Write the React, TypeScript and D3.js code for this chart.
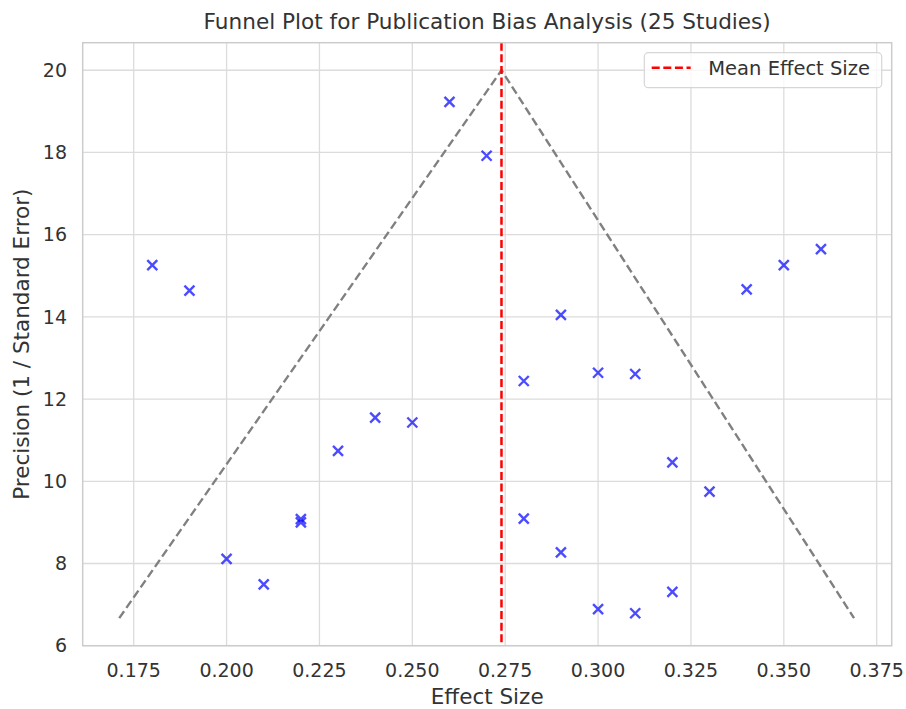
import React from "react";
import * as d3 from "d3";

const effectSizes = [0.18, 0.19, 0.2, 0.21, 0.22, 0.22, 0.23, 0.24, 0.25, 0.26, 0.27, 0.28, 0.28, 0.29, 0.29, 0.3, 0.3, 0.31, 0.31, 0.32, 0.32, 0.33, 0.34, 0.35, 0.36];
const precisions = [15.26, 14.64, 8.11, 7.49, 9.08, 9.0, 10.74, 11.55, 11.43, 19.23, 17.92, 12.44, 9.09, 14.05, 8.27, 12.64, 6.89, 12.61, 6.79, 10.46, 7.31, 9.75, 14.67, 15.26, 15.65];
const funnelEffect = [0.1711, 0.274, 0.3689];
const funnelPrecision = [6.67, 20, 6.67];
const xTicks = [0.175, 0.2, 0.225, 0.25, 0.275, 0.3, 0.325, 0.35, 0.375];
const yTicks = [6, 8, 10, 12, 14, 16, 18, 20];

const W = 906;
const H = 709;
const L = 82.7, R = 891.7, T = 42.7, B = 645.7;
const FONT = "'DejaVu Sans', sans-serif";
const TXT = "#333333";

export default function App() {
  const x = d3.scaleLinear().domain([0.16127, 0.37904]).range([L, R]);
  const y = d3.scaleLinear().domain([6.0, 20.67]).range([B, T]);
  const meanEffect = d3.mean(effectSizes) as number;
  const funnel = d3.line<number>().x((d) => x(d)).y((_, i) => y(funnelPrecision[i]));
  const ms = 5;
  return (
    <svg width={W} height={H} style={{ position: "absolute", left: 0, top: 0, background: "#fff" }} fontFamily={FONT}>
      <rect x={0} y={0} width={W} height={H} fill="#fff" />
      {/* grid */}
      {xTicks.map((t) => (
        <line key={"gx" + t} x1={x(t)} x2={x(t)} y1={T} y2={B} stroke="#dcdcdc" strokeWidth={1.3} />
      ))}
      {yTicks.map((t) => (
        <line key={"gy" + t} x1={L} x2={R} y1={y(t)} y2={y(t)} stroke="#dcdcdc" strokeWidth={1.3} />
      ))}
      {/* funnel */}
      <path d={funnel(funnelEffect) || ""} fill="none" stroke="#808080" strokeWidth={2.4} strokeDasharray="8.5,4" />
      {/* points */}
      {effectSizes.map((e, i) => {
        const cx = x(e), cy = y(precisions[i]);
        return (
          <path key={"p" + i} d={`M${cx - ms},${cy - ms}L${cx + ms},${cy + ms}M${cx - ms},${cy + ms}L${cx + ms},${cy - ms}`}
            stroke="#0000ff" strokeOpacity={0.7} strokeWidth={2.4} fill="none" />
        );
      })}
      {/* mean line */}
      <line x1={x(meanEffect)} x2={x(meanEffect)} y1={T} y2={B} stroke="#ff0000" strokeWidth={2.5} strokeDasharray="8,3.6" />
      {/* spines */}
      <rect x={L} y={T} width={R - L} height={B - T} fill="none" stroke="#cccccc" strokeWidth={1.5} />
      {/* tick labels */}
      {xTicks.map((t) => (
        <text key={"tx" + t} x={x(t)} y={677} textAnchor="middle" fontSize={19} fill={TXT}>{t.toFixed(3)}</text>
      ))}
      {yTicks.map((t) => (
        <text key={"ty" + t} x={67} y={y(t)} dy="0.35em" textAnchor="end" fontSize={19} fill={TXT}>{t}</text>
      ))}
      {/* labels */}
      <text x={(L + R) / 2} y={29} textAnchor="middle" fontSize={21.6} fill={TXT}>Funnel Plot for Publication Bias Analysis (25 Studies)</text>
      <text x={(L + R) / 2} y={704} textAnchor="middle" fontSize={21.5} fill={TXT}>Effect Size</text>
      <text transform={`translate(29,${(T + B) / 2}) rotate(-90)`} textAnchor="middle" fontSize={21.5} fill={TXT}>Precision (1 / Standard Error)</text>
      {/* legend */}
      <rect x={644.3} y={52.7} width={237.4} height={35} rx={4} fill="#fff" fillOpacity={0.8} stroke="#d6d6d6" strokeWidth={1.2} />
      <line x1={651.7} x2={690.7} y1={67.7} y2={67.7} stroke="#ff0000" strokeWidth={2.5} strokeDasharray="8,3.6" />
      <text x={708.3} y={68.5} dy="0.35em" fontSize={19.5} fill={TXT}>Mean Effect Size</text>
    </svg>
  );
}
